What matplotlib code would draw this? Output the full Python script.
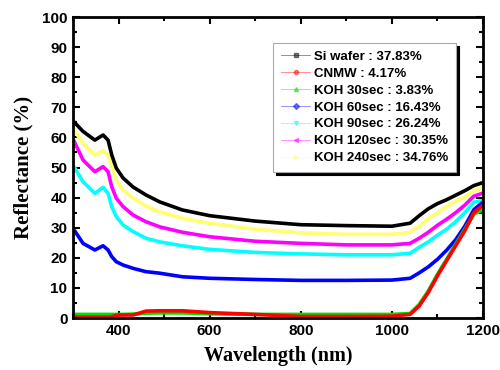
import numpy as np
import matplotlib
matplotlib.use("Agg")
from matplotlib import pyplot as plt
from matplotlib.lines import Line2D
from matplotlib.ticker import MultipleLocator

# Valores (nm, %)
wavelength = [300, 322, 348, 366, 377, 385, 395, 410, 432, 460, 490, 540, 600, 700,
              800, 900, 1000, 1040, 1060, 1080, 1100, 1120, 1140, 1160, 1180, 1200]

si_wafer = [65.5, 62, 59.1, 60.8, 59.1, 54.2, 49.8, 46.5, 43.5, 40.9, 38.6, 35.9, 34, 32.2,
            31, 30.7, 30.5, 31.5, 34, 36.3, 38, 39.3, 40.8, 42.3, 44, 45]
cnmw = [0.3, 0.3, 0.3, 0.3, 0.3, 0.4, 0.9, 1, 1, 2.3, 2.4, 2.4, 1.8, 1.2,
        0.5, 0.5, 0.6, 1.2, 4, 8.5, 14, 19, 24, 29, 35, 37.5]
koh_30 = [1.2, 1.2, 1.2, 1.2, 1.2, 1.2, 1.2, 1.2, 1.3, 1.6, 1.7, 1.7, 1.4, 1.2,
          1.2, 1.2, 1.2, 1.5, 4.5, 9, 14.5, 19.5, 24.5, 29.5, 34.5, 36]
koh_60 = [29.8, 24.8, 22.6, 24, 22.6, 20.4, 18.7, 17.6, 16.5, 15.4, 14.9, 13.7, 13.2, 12.8,
          12.5, 12.5, 12.6, 13.2, 15, 17, 19.5, 22.5, 26, 30.5, 36, 38.5]
koh_90 = [50.8, 45.3, 41.4, 43.4, 41.4, 37, 33.7, 30.9, 28.7, 26.5, 25.3, 24, 22.8, 21.8,
          21.3, 21, 21, 21.5, 23.5, 25.3, 27.5, 29.5, 32, 35, 38.5, 39]
koh_120 = [59.5, 52.5, 48.6, 50.3, 48.6, 43.6, 39.8, 37, 34.2, 32, 30.3, 28.5, 27, 25.5,
           24.8, 24.3, 24.3, 24.8, 26.5, 28.5, 30.8, 32.8, 35, 37.5, 40.5, 41.5]
koh_240 = [63, 58, 54.2, 55.6, 54.2, 50.3, 45.8, 42.5, 39.8, 37.2, 35.3, 33.1, 31.5, 29.5,
           28.3, 27.8, 27.8, 28.5, 30.5, 33, 35, 37, 38.8, 40.2, 42.3, 43.5]

labels = ["Si wafer : 37.83%", "CNMW : 4.17%", "KOH 30sec : 3.83%", "KOH 60sec : 16.43%",
          "KOH 90sec : 26.24%", "KOH 120sec : 30.35%", "KOH 240sec : 34.76%"]
series = [si_wafer, cnmw, koh_30, koh_60, koh_90, koh_120, koh_240]
cores = ["black", "red", "#00dd00", "blue", "cyan", "magenta", "#ffff70"]
marcadores = ["s", "o", "^", "D", "v", "<", ">"]

fig = plt.figure(figsize=(5, 3.7), dpi=100)
ax = fig.add_axes([0.146, 0.1405, 0.82, 0.8135])

# desenha do ultimo para o primeiro para o preto ficar por cima
for y, c in reversed(list(zip(series, cores))):
    ax.plot(wavelength, y, color=c, lw=2.6, solid_capstyle="butt")

ax.set_xlim(300, 1200)
ax.set_ylim(0, 100)
ax.xaxis.set_major_locator(MultipleLocator(200))
ax.xaxis.set_minor_locator(MultipleLocator(100))
ax.yaxis.set_major_locator(MultipleLocator(10))
ax.yaxis.set_minor_locator(MultipleLocator(5))
ax.tick_params(which="both", direction="in", top=True, right=True, width=1.5)
ax.tick_params(which="major", length=5, labelsize=11, pad=4)
ax.tick_params(which="minor", length=3)
for lab in ax.get_xticklabels() + ax.get_yticklabels():
    lab.set_fontweight("bold")
    lab.set_family("Liberation Sans")
for s in ax.spines.values():
    s.set_linewidth(2)

ax.set_xlabel("Wavelength (nm)", family="Liberation Serif", fontweight="bold", fontsize=14.5, labelpad=6)
ax.set_ylabel("Reflectance (%)", family="Liberation Serif", fontweight="bold", fontsize=15, labelpad=6)

handles = [Line2D([0], [0], color=c, lw=0.6, alpha=0.5, marker=m, markersize=3,
                  markerfacecolor=c, markeredgecolor=c)
           for c, m in zip(cores, marcadores)]
leg = ax.legend(handles, labels, loc="upper left", bbox_to_anchor=(0.488, 0.914),
                borderaxespad=0,
                prop={"family": "Liberation Sans", "weight": "bold", "size": 9.5},
                fancybox=False, shadow={"color": "black", "alpha": 1},
                framealpha=1, edgecolor="#aaaaaa", handlelength=2.2,
                labelspacing=0.35, borderpad=0.6, handletextpad=0.3)
leg.get_frame().set_linewidth(0.8)

fig.savefig("out.png", dpi=100)
